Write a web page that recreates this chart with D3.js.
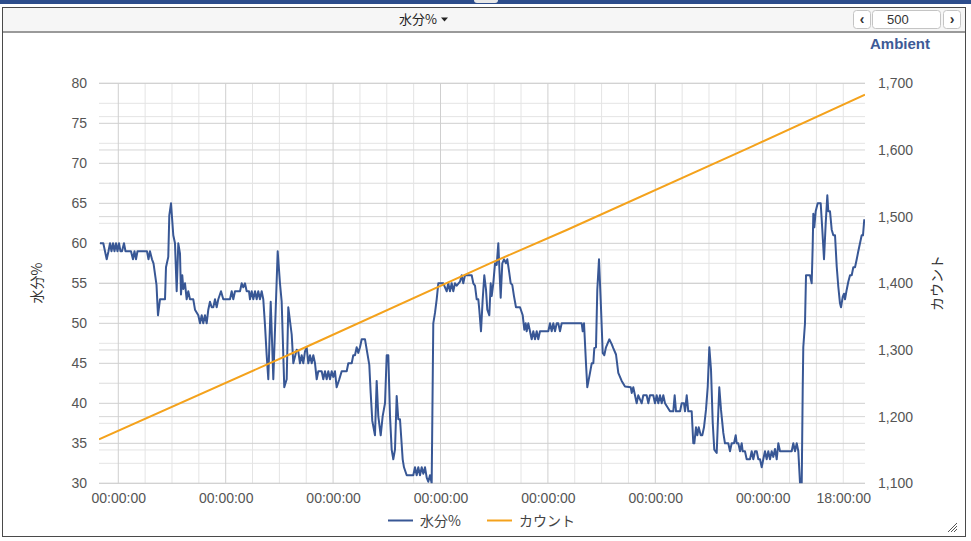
<!DOCTYPE html>
<html><head><meta charset="utf-8">
<script src="https://cdn.jsdelivr.net/npm/d3@7"></script>
<style>
body{margin:0;background:#fff;}
svg{display:block;font-family:"Liberation Sans",Arial,sans-serif;}
.cjk{font-family:"Noto Sans CJK JP","Liberation Sans",sans-serif;}
</style>
</head><body>
<svg id="c" width="971" height="541"></svg>
<script>
// ---------- data ----------
const headerTitle = "水分%";
const pageSize = "500";
const sensorName = "Ambient";
const leftAxisTitle = "水分%";
const rightAxisTitle = "カウント";
const seriesNames = ["水分%", "カウント"];
const leftTicks = [30, 35, 40, 45, 50, 55, 60, 65, 70, 75, 80];
const rightTicks = [1100, 1200, 1300, 1400, 1500, 1600, 1700];
const xTickHours = [0, 24, 48, 72, 96, 120, 144, 162];
const xDomainHours = [-4.31, 166.86];

// moisture (水分%) samples: hours from first midnight, value
const moistureHours = [
-4.09,-3.35,-2.59,-2.19,-1.85,-1.52,-1.18,-0.85,-0.51,-0.18,0.16,0.49,0.83,1.27,1.61,2.84,3.28,3.62,3.96,4.29,6.41,6.75,7.08,7.53,7.87,8.54,8.87,9.32,10.44,10.66,11.17,11.40,11.78,12.29,12.67,13.05,13.41,13.79,14.01,14.30,14.53,14.91,15.28,15.64,16.02,16.76,17.14,17.88,18.26,18.64,18.99,19.37,19.75,20.11,20.49,20.87,21.23,21.61,21.99,22.35,22.95,23.46,24.96,25.34,25.70,26.08,27.20,27.58,27.93,28.31,28.69,29.21,29.43,29.81,30.17,30.55,30.93,31.28,31.66,32.04,32.40,32.78,33.16,33.52,34.06,34.64,35.62,36.13,36.51,37.09,37.63,37.99,38.75,39.11,
39.87,40.22,40.60,40.98,41.34,41.72,42.09,42.46,42.84,43.22,43.58,43.96,44.34,44.69,45.45,45.81,46.19,46.57,46.93,47.31,47.69,48.04,48.42,48.80,49.39,49.92,51.04,51.40,52.16,52.51,52.89,53.27,53.63,54.01,54.39,55.13,55.64,56.09,56.40,56.76,57.36,57.74,58.10,58.64,59.08,59.60,59.98,60.34,60.72,61.09,61.45,61.83,62.21,62.57,62.95,63.55,63.84,64.45,65.92,66.30,66.68,67.04,67.42,67.80,68.16,68.54,68.92,69.27,69.65,70.03,70.39,70.77,71.15,71.51,72.63,73.39,73.74,74.12,74.50,74.86,75.24,75.62,76.36,76.74,77.09,77.47,78.97,79.33,79.71,80.09,80.45,80.67,81.05,81.43,81.79,82.17,82.46,82.91,83.22,83.44,83.80,84.18,84.56,84.92,85.14,85.45,85.81,86.19,86.64,86.93,87.37,87.69,88.04,88.42,88.87,89.77,90.37,90.73,91.04,91.26,91.62,92.00,92.38,92.74,93.12,93.50,93.85,94.23,96.09,96.47,96.85,97.21,97.59,97.97,98.32,98.70,99.08,103.55,103.78,104.07,104.51,104.80,105.41,105.79,106.15,106.37,106.75,107.04,107.42,107.80,108.25,108.60,108.98,109.72,110.26,110.61,111.22,111.73,112.49,113.23,114.51,114.73,115.08,115.46,115.84,116.20,116.58,116.96,117.32,118.07,118.44,118.81,119.19,119.55,119.93,120.31,120.67,121.05,121.43,121.79,122.17,123.28,
123.66,124.02,124.33,124.63,125.53,125.90,126.41,126.64,127.02,127.37,128.13,128.49,128.72,129.09,129.39,129.70,130.15,130.50,130.88,131.33,131.72,132.07,132.45,132.83,133.18,133.72,133.94,134.30,134.68,135.20,135.57,135.96,136.31,136.69,137.07,137.59,137.97,138.19,138.55,138.93,139.31,139.53,140.04,140.42,141.16,141.54,141.90,142.28,142.66,143.02,143.40,143.78,144.13,144.51,144.89,145.25,145.63,146.01,146.37,146.75,147.13,147.49,147.87,150.48,150.84,151.22,151.60,151.96,152.34,152.72,152.94,153.07,153.45,153.68,154.57,154.95,155.17,155.31,155.53,155.84,156.29,156.96,157.32,157.70,158.08,158.44,158.66,159.04,159.42,159.78,160.16,160.54,160.89,161.27,161.50,161.88,162.17,162.39,162.77,163.13,163.51,163.89,164.25,164.63,165.01,165.36,165.74,166.12,166.41,166.70
];
const moistureValues = [
60,60,58,59,60,59,60,59,60,59,60,59,59,60,59,59,58,59,58,59,59,58,59,58,57.5,54.8,51,53,53,57,58.3,63.5,65,61,60,54,60,58.7,53.6,56,54.3,55,53,54,53,53,51.7,51,50,51,50,51,50,51.7,52.7,52,52,53,52,53,54,53,53,54,53,54,54,55,54.5,55,54,54,53,54,53,54,53,54,53,54,53,49.8,46,43,52.7,43,59,55,52.7,42,43,52,48.6,45,
46.7,46.5,45,46,45,46.5,47,45,46,45,46,45,43,44,44,43,44,43,44,43,44,43.3,44,42,43,44,44,45,45,46,46,47,46.3,47,48,48,46.3,44.8,41.3,37.8,36,42.8,38.4,36,38.4,40,46,46,38.4,34.2,33,34.2,40.9,38,38,33,32,31,31,32,31,32,31,32,31.2,32,30.7,30.2,31,30,50,51.3,53,55,55,54,55,54,55,54,55,54.7,55.2,56,55,56,56,55,54.7,53,53,51.7,49,53,56,54.2,51.7,51,55,53.4,55,57.5,57.3,60,57.1,53.2,57.5,58,57.5,58,56.3,55,54.8,53.4,52,52,51,49.2,50,49,50,49,48,49,48,49,48,49,49,50,49,50,49,50,50,49,50,50,49,50,45,42,43.8,45,45,46.9,47,54.2,58,52.9,46.3,46,47,48,47.4,46.9,46.1,43.8,42.8,42.1,42,41.3,42,41,40,41,40.5,40,41,41,40,41,41,41,40,41,40,41,40,41,40,39,
39,39,41,39,39,40,40,39,41,39,39,35,35,37,36,37,36,36,37,39.2,42.1,47,44.2,37.6,34.2,33.8,37,42,39.2,36.3,35,35,35,34,35,35,36,35,35,34,35,34,34,33,33,34,33,34,34,33,33,32,33,34,33,34,33,34,33.3,34.3,33,35,34,34,35,34,35,34,30,30,41.7,47,50,56,56,55,59.6,63.7,62,64,65,65,61.7,58,62.5,66,64,64,61.7,61,61,57.1,54.6,52.5,52,53.3,53.7,53,54.2,55.2,56,56,57,57,58,59,60,61,61,63
];

// count (カウント) samples
const countHours = [-4.31, 39.49, 83.06, 100.2, 141.16, 166.86];
const countValues = [1166, 1297, 1430, 1480, 1604, 1683];

// ---------- drawing ----------
const svg = d3.select("#c");
const W = 971, H = 541;
const base = new Date(2024, 0, 2, 0, 0, 0).getTime();
const toDate = h => new Date(base + h * 3600e3);

const plot = {left: 99, right: 865, top: 83.3, bottom: 483.3};
const x = d3.scaleTime().domain(xDomainHours.map(toDate)).range([plot.left, plot.right]);
const yL = d3.scaleLinear().domain([30, 80]).range([plot.bottom, plot.top]);
const yR = d3.scaleLinear().domain([1100, 1700]).range([plot.bottom, plot.top]);

// frame
svg.append("rect").attr("x", 0).attr("y", 0).attr("width", W).attr("height", 4).attr("fill", "#2d4d8c");
svg.append("rect").attr("x", 474).attr("y", -3).attr("width", 24).attr("height", 6).attr("rx", 3).attr("fill", "#e8e8e8");
svg.append("rect").attr("x", 2.5).attr("y", 7.5).attr("width", 963).attr("height", 529)
  .attr("fill", "#fff").attr("stroke", "#4a4a4a");
svg.append("rect").attr("x", 3).attr("y", 8).attr("width", 962).attr("height", 23).attr("fill", "#f6f6f6");
svg.append("rect").attr("x", 3).attr("y", 31).attr("width", 962).attr("height", 2).attr("fill", "#9a9a9a");

// header title
svg.append("text").attr("class", "cjk").attr("x", 437).attr("y", 24).attr("text-anchor", "end")
  .attr("font-size", 13).attr("fill", "#222").text(headerTitle);
svg.append("path").attr("d", "M441,17.5 L448,17.5 L444.5,21.5 Z").attr("fill", "#222");

// pager controls
function btn(x0, w, label) {
  svg.append("rect").attr("x", x0 + 0.5).attr("y", 10.5).attr("width", w).attr("height", 18).attr("rx", 3)
    .attr("fill", "#fff").attr("stroke", "#c4c4c4");
  if (label) svg.append("text").attr("x", x0 + w / 2 + 0.5).attr("y", 24).attr("text-anchor", "middle")
    .attr("font-size", 14).attr("font-weight", "bold").attr("fill", "#333").text(label);
}
btn(853, 17, "‹");
btn(872, 68, null);
svg.append("text").attr("x", 887).attr("y", 24).attr("font-size", 13).attr("fill", "#333").text(pageSize);
btn(943, 17, "›");

// sensor name
svg.append("text").attr("x", 930).attr("y", 49).attr("text-anchor", "end")
  .attr("font-size", 15).attr("font-weight", "bold").attr("fill", "#3d5a96").text(sensorName);

// grid
const g = svg.append("g");
const minorH = d3.range(30, 80.01, 2.5).filter(v => v % 5 !== 0);
g.selectAll(".hm").data(minorH).join("line")
  .attr("x1", plot.left).attr("x2", plot.right).attr("y1", d => yL(d)).attr("y2", d => yL(d))
  .attr("stroke", "#e4e4e4").attr("stroke-width", 1);
const rightMinor = d3.range(1150, 1700, 100);
g.selectAll(".rm").data(rightMinor).join("line")
  .attr("x1", plot.left).attr("x2", plot.right).attr("y1", d => yR(d)).attr("y2", d => yR(d))
  .attr("stroke", "#e4e4e4").attr("stroke-width", 1);
const minorV = d3.range(-0, 167, 6).filter(h => h % 24 !== 0);
g.selectAll(".vm").data(minorV).join("line")
  .attr("x1", d => x(toDate(d))).attr("x2", d => x(toDate(d))).attr("y1", plot.top).attr("y2", plot.bottom)
  .attr("stroke", "#e4e4e4").attr("stroke-width", 1);
g.selectAll(".rM").data(rightTicks).join("line")
  .attr("x1", plot.left).attr("x2", plot.right).attr("y1", d => yR(d)).attr("y2", d => yR(d))
  .attr("stroke", "#d6d6d6").attr("stroke-width", 1);
g.selectAll(".hM").data(leftTicks).join("line")
  .attr("x1", plot.left).attr("x2", plot.right).attr("y1", d => yL(d)).attr("y2", d => yL(d))
  .attr("stroke", "#cfcfcf").attr("stroke-width", 1);
const majorV = xTickHours.filter(h => h % 24 === 0);
g.selectAll(".vM").data(majorV).join("line")
  .attr("x1", d => x(toDate(d))).attr("x2", d => x(toDate(d))).attr("y1", plot.top).attr("y2", plot.bottom)
  .attr("stroke", "#cfcfcf").attr("stroke-width", 1);

// axes (labels only)
const axL = d3.axisLeft(yL).tickValues(leftTicks).tickSize(0).tickPadding(12);
svg.append("g").attr("transform", `translate(${plot.left},0)`).call(axL)
  .call(s => s.select(".domain").remove())
  .call(s => s.selectAll("text").attr("font-size", 14).attr("fill", "#555").attr("font-family", "Liberation Sans, Arial, sans-serif"));
const axR = d3.axisRight(yR).tickValues(rightTicks).tickSize(0).tickPadding(13).tickFormat(d3.format(","));
svg.append("g").attr("transform", `translate(${plot.right},0)`).call(axR)
  .call(s => s.select(".domain").remove())
  .call(s => s.selectAll("text").attr("font-size", 14).attr("fill", "#555").attr("font-family", "Liberation Sans, Arial, sans-serif"));
const axB = d3.axisBottom(x).tickValues(xTickHours.map(toDate)).tickSize(0).tickPadding(10)
  .tickFormat(d3.timeFormat("%H:%M:%S"));
svg.append("g").attr("transform", `translate(0,${plot.bottom})`).call(axB)
  .call(s => s.select(".domain").remove())
  .call(s => s.selectAll("text").attr("font-size", 14).attr("fill", "#555").attr("font-family", "Liberation Sans, Arial, sans-serif"));

// axis titles
svg.append("text").attr("class", "cjk").attr("transform", "translate(42,283) rotate(-90)")
  .attr("text-anchor", "middle").attr("font-size", 14).attr("fill", "#333").text(leftAxisTitle);
svg.append("text").attr("class", "cjk").attr("transform", "translate(942,283) rotate(-90)")
  .attr("text-anchor", "middle").attr("font-size", 14).attr("fill", "#333").text(rightAxisTitle);

// clip
svg.append("clipPath").attr("id", "clip").append("rect")
  .attr("x", plot.left).attr("y", plot.top - 2).attr("width", plot.right - plot.left).attr("height", plot.bottom - plot.top + 2);

const moisture = moistureHours.map((h, i) => [toDate(h), moistureValues[i]]);
const counts = countHours.map((h, i) => [toDate(h), countValues[i]]);
const cBlue = "#385795", cOrange = "#f4a21c";

svg.append("path").datum(moisture).attr("clip-path", "url(#clip)")
  .attr("fill", "none").attr("stroke", cBlue).attr("stroke-width", 2).attr("stroke-linejoin", "round")
  .attr("d", d3.line().x(d => x(d[0])).y(d => yL(d[1])));
svg.append("path").datum(counts).attr("clip-path", "url(#clip)")
  .attr("fill", "none").attr("stroke", cOrange).attr("stroke-width", 2)
  .attr("d", d3.line().x(d => x(d[0])).y(d => yR(d[1])));

// legend
const lg = svg.append("g");
const legendItems = [{name: seriesNames[0], c: cBlue, x: 388}, {name: seriesNames[1], c: cOrange, x: 487}];
legendItems.forEach(it => {
  lg.append("line").attr("x1", it.x).attr("x2", it.x + 25).attr("y1", 520.5).attr("y2", 520.5)
    .attr("stroke", it.c).attr("stroke-width", 2);
  lg.append("text").attr("class", "cjk").attr("x", it.x + 32).attr("y", 526).attr("font-size", 14)
    .attr("fill", "#444").text(it.name);
});

// resize grip
const grip = svg.append("g").attr("stroke", "#555").attr("stroke-width", 1);
[[957, 526, 951, 532], [957, 529, 954, 532], [957, 523, 948, 532]].forEach(d =>
  grip.append("line").attr("x1", d[0]).attr("y1", d[1]).attr("x2", d[2]).attr("y2", d[3]));
</script>
</body></html>
